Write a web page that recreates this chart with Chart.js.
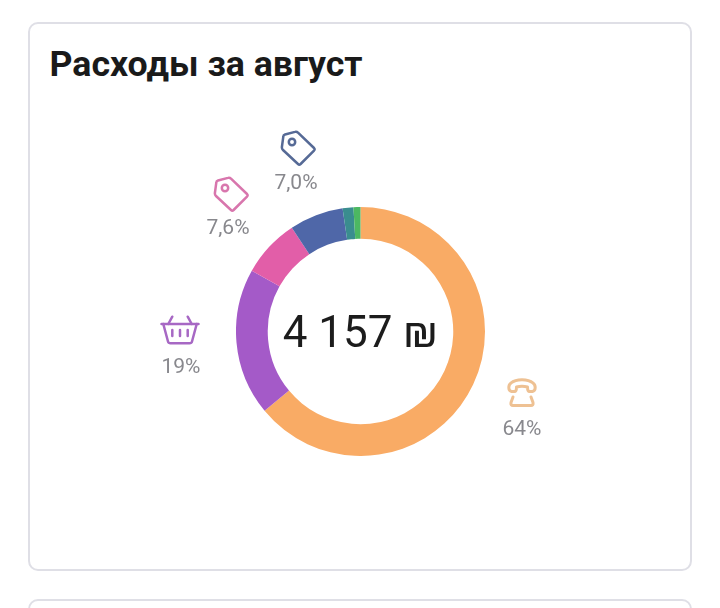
<!DOCTYPE html>
<html lang="ru"><head><meta charset="utf-8">
<script src="https://cdn.jsdelivr.net/npm/chart.js@4"></script>
<style>
html,body{margin:0;padding:0;background:#fff;width:720px;height:608px;overflow:hidden;font-family:Roboto,sans-serif}
.card{position:absolute;box-sizing:border-box;left:28px;width:664px;border:2px solid #dfdfe6;border-radius:10px;background:#fff}
#c1{top:22px;height:549px}#c2{top:599px;height:60px}
h1{position:absolute;left:49.5px;top:44px;margin:0;font:700 35.7px/40px Roboto,sans-serif;color:#1a1a1a;white-space:nowrap}
#wrap{position:absolute;left:236px;top:207px;width:249px;height:249px}
#total{position:absolute;left:230px;width:260px;text-align:center;top:304px;font:400 44px/56px Roboto,sans-serif;color:#1c1c1c;white-space:nowrap}
.pct{position:absolute;width:80px;text-align:center;font:400 21px/24px Roboto,sans-serif;color:#88888d}
svg.ic{position:absolute;fill:none;stroke-linejoin:round;stroke-linecap:round}
</style></head><body>
<div class="card" id="c1"></div><div class="card" id="c2"></div>
<h1 id="title"></h1>
<div id="wrap"><canvas id="chart" width="249" height="249"></canvas></div>
<div id="total"></div>
<div id="labels"></div>
<script>
const title = "Расходы за август";
const totalLabel = "4 157 ₪";
const categories = ["Связь","Продукты","Категория 3","Категория 4","Категория 5","Категория 6"];
const shares = [64, 19.1, 7.6, 7.0, 1.4, 0.9];
const colors = ["#f9ab65","#a45ac8","#e25ea8","#4f67a8","#3a8d8f","#4cb862"];
const percentLabels = ["64%","19%","7,6%","7,0%"];
const labelCenters = [[522,428],[181,366],[228,227],[296,182]];

document.getElementById('title').textContent = title;
document.getElementById('total').textContent = totalLabel;
new Chart(document.getElementById('chart'),{
  type:'doughnut',
  data:{labels:categories,datasets:[{data:shares,backgroundColor:colors,borderWidth:0}]},
  options:{responsive:false,animation:false,cutout:'74.5%',layout:{padding:0},
    plugins:{legend:{display:false},tooltip:{enabled:false}}}
});
const host=document.getElementById('labels');
percentLabels.forEach((t,i)=>{
  const d=document.createElement('div');d.className='pct';d.textContent=t;
  d.style.left=(labelCenters[i][0]-40)+'px';d.style.top=(labelCenters[i][1]-12)+'px';host.appendChild(d);
});
const NS='http://www.w3.org/2000/svg';
const tag='<path d="M3.3 6.7 Q3.3 5 5 4.5 L15 1.9 Q16.7 1.4 18 2.7 L34 18 Q35.2 19.3 34 20.6 L20.6 34 Q19.3 35.2 18 34 L3 20 Q1.7 18.8 1.9 17 Z"/><circle cx="12" cy="12" r="3.2"/>';
const icons=[
 {x:503,y:376,w:38,h:34,c:'#eec193',sw:3,s:'<path d="M8.5 15.5 C5 15 5 9 8 7 C13 2.5 25 2.5 30 7 C33 9 33 15 29.5 15.5 L26.5 15.5 C25 15.5 24.5 13 24.5 11 C21 10 17 10 13.5 11 C13.5 13 13 15.5 11.5 15.5 Z"/><path d="M10 21 L8 26.5 C7.5 28.5 8.5 29.5 10 29.5 L28 29.5 C29.5 29.5 30.5 28.5 30 26.5 L28 21"/>'},
 {x:160,y:315,w:40,h:32,c:'#a768c4',sw:2.5,s:'<path d="M1.5 9 L38.5 9"/><path d="M12.3 1.7 L8.3 9 M27.7 1.7 L31.7 9"/><path d="M3.3 9 L8 26.5 C8.4 28 9 28.3 10.5 28.3 L29.5 28.3 C31 28.3 31.6 28 32 26.5 L36.7 9"/><path d="M12.3 15 L12.3 21 M20 15 L20 21 M27.7 15 L27.7 21"/>'},
 {x:212.5,y:176,w:38,h:38,c:'#d876ad',sw:2.5,s:tag},
 {x:280,y:130,w:38,h:38,c:'#566a96',sw:2.5,s:tag}
];
icons.forEach(o=>{
  const v=document.createElementNS(NS,'svg');v.setAttribute('class','ic');
  v.setAttribute('viewBox','0 0 '+o.w+' '+o.h);v.setAttribute('width',o.w);v.setAttribute('height',o.h);
  v.style.left=o.x+'px';v.style.top=o.y+'px';v.style.stroke=o.c;v.style.strokeWidth=o.sw;v.innerHTML=o.s;document.body.appendChild(v);
});
</script></body></html>
